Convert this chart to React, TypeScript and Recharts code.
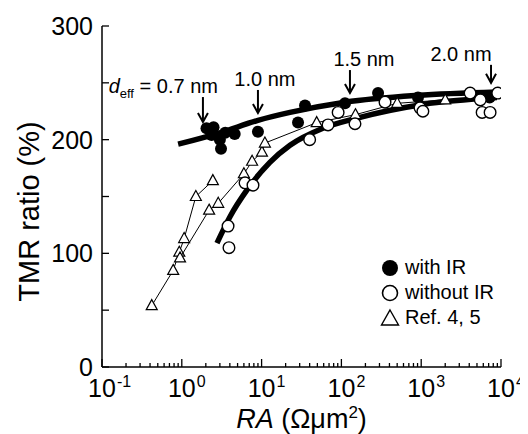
import React from 'react';
import { ComposedChart, Scatter, XAxis, YAxis, ReferenceDot, Legend } from 'recharts';

// ---------- data ----------
const withIR = [
  { ra: 2.04, tmr: 210 }, { ra: 2.5, tmr: 211 }, { ra: 2.36, tmr: 204 }, { ra: 3.0, tmr: 200 },
  { ra: 3.1, tmr: 192 }, { ra: 3.5, tmr: 206 }, { ra: 4.6, tmr: 205 }, { ra: 9.0, tmr: 207 },
  { ra: 28.6, tmr: 215 }, { ra: 35, tmr: 230 }, { ra: 111, tmr: 232 }, { ra: 288, tmr: 241 },
  { ra: 912, tmr: 237 }, { ra: 7200, tmr: 237 },
];
const withoutIR = [
  { ra: 3.8, tmr: 124 }, { ra: 3.9, tmr: 105 }, { ra: 6.2, tmr: 162 }, { ra: 7.8, tmr: 160 },
  { ra: 40, tmr: 200 }, { ra: 68, tmr: 213 }, { ra: 91, tmr: 224 }, { ra: 148, tmr: 214 },
  { ra: 352, tmr: 233 }, { ra: 966, tmr: 228 }, { ra: 1050, tmr: 225 }, { ra: 4100, tmr: 241 },
  { ra: 5500, tmr: 235 }, { ra: 5800, tmr: 224 }, { ra: 7300, tmr: 224 }, { ra: 9100, tmr: 241 },
];
const ref4 = [
  { ra: 0.42, tmr: 54 }, { ra: 0.78, tmr: 85 }, { ra: 0.93, tmr: 101 }, { ra: 1.07, tmr: 113 },
  { ra: 1.5, tmr: 150 }, { ra: 2.45, tmr: 164 },
];
const ref5 = [
  { ra: 0.95, tmr: 96 }, { ra: 2.2, tmr: 138 }, { ra: 2.86, tmr: 144 }, { ra: 6.0, tmr: 170 },
  { ra: 7.6, tmr: 181 }, { ra: 10.1, tmr: 189 }, { ra: 11, tmr: 197 }, { ra: 49, tmr: 215 },
  { ra: 150, tmr: 222 }, { ra: 500, tmr: 232 }, { ra: 2000, tmr: 235 },
];
const fitWithIR = [
  { ra: 0.9, tmr: 196 }, { ra: 3.0, tmr: 206 }, { ra: 9, tmr: 217 }, { ra: 22.7, tmr: 224 },
  { ra: 111, tmr: 233 }, { ra: 885, tmr: 239 }, { ra: 8900, tmr: 242 },
];
const fitWithoutIR = [
  { ra: 2.76, tmr: 109 }, { ra: 4.0, tmr: 132 }, { ra: 6.6, tmr: 156 }, { ra: 12.7, tmr: 180 },
  { ra: 22.7, tmr: 195 }, { ra: 58.7, tmr: 210 }, { ra: 157, tmr: 219 }, { ra: 1050, tmr: 231 },
  { ra: 8900, tmr: 237 },
];
const decadeExponents = [-1, 0, 1, 2, 3, 4];
const minorMultipliers = [2, 3, 4, 5, 6, 7, 8, 9];
const yTicks = [0, 50, 100, 150, 200, 250, 300];
const yLabelTicks = [0, 100, 200, 300];
const annotations = [
  { ra: 1.84, tmr: 215.5, label: '0.7 nm', deff: true },
  { ra: 9.0, tmr: 223.5, label: '1.0 nm', deff: false },
  { ra: 128, tmr: 241, label: '1.5 nm', deff: false },
  { ra: 7500, tmr: 250, label: '2.0 nm', deff: false },
];
const legendItems = [
  { key: 'filled', label: 'with IR' },
  { key: 'open', label: 'without IR' },
  { key: 'tri', label: 'Ref. 4, 5' },
];

// ---------- styles ----------
const FONT = '"Liberation Sans", Arial, Helvetica, sans-serif';
const annotationStyle = [
  { dx: 15, anchor: 'end', len: 25 },
  { dx: 7, anchor: 'middle', len: 23 },
  { dx: 14, anchor: 'middle', len: 23 },
  { dx: -30, anchor: 'middle', len: 18 },
];

const xTicks: number[] = [];
decadeExponents.forEach((e, i) => {
  xTicks.push(Math.pow(10, e));
  if (i < decadeExponents.length - 1) minorMultipliers.forEach((m) => xTicks.push(m * Math.pow(10, e)));
});

const isDecade = (v: number) => {
  const e = Math.round(Math.log10(v));
  return Math.abs(v - Math.pow(10, e)) < 1e-6 * v;
};

const XTickBottom = (props: any) => {
  const { x, y, payload } = props;
  const v = payload.value;
  const major = isDecade(v);
  const e = Math.round(Math.log10(v));
  return (
    <g>
      <line x1={x} x2={x} y1={y} y2={y - (major ? 8 : 4)} stroke="#000" strokeWidth={1.3} />
      {major && (
        <>
          <text x={x} y={y + 30} textAnchor="middle" fontSize={25} fontFamily={FONT} fill="#000">10</text>
          <text x={x + 15} y={y + 20} textAnchor="start" fontSize={16} fontFamily={FONT} fill="#000">{String(e)}</text>
        </>
      )}
    </g>
  );
};

const XTickTop = (props: any) => {
  const { x, y, payload } = props;
  const major = isDecade(payload.value);
  return <line x1={x} x2={x} y1={y} y2={y + (major ? 8 : 4)} stroke="#000" strokeWidth={1.3} />;
};

const YTickLeft = (props: any) => {
  const { x, y, payload } = props;
  const v = payload.value;
  return (
    <g>
      <line x1={x} x2={x + 7} y1={y} y2={y} stroke="#000" strokeWidth={1.3} />
      {yLabelTicks.includes(v) && (
        <text x={x - 9} y={y} dy="0.36em" textAnchor="end" fontSize={25} fontFamily={FONT} fill="#000">{String(v)}</text>
      )}
    </g>
  );
};

const YTickRight = (props: any) => {
  const { x, y } = props;
  return <line x1={x} x2={x - 7} y1={y} y2={y} stroke="#000" strokeWidth={1.3} />;
};

const circleFilled = (p: any) => <circle cx={p.cx} cy={p.cy} r={6} fill="#000" />;
const circleOpen = (p: any) => <circle cx={p.cx} cy={p.cy} r={5.8} fill="#fff" stroke="#000" strokeWidth={1.4} />;
const triangle = (p: any) => (
  <polygon
    points={`${p.cx},${p.cy - 6} ${p.cx + 5.5},${p.cy + 4} ${p.cx - 5.5},${p.cy + 4}`}
    fill="#fff"
    stroke="#000"
    strokeWidth={1.2}
  />
);
const noShape = () => <g />;

const makeArrow = (i: number) => (p: any) => {
  const a = annotations[i];
  const s = annotationStyle[i];
  const { cx, cy } = p;
  const top = cy - s.len;
  return (
    <g>
      <line x1={cx} x2={cx} y1={top} y2={cy} stroke="#000" strokeWidth={2} />
      <polyline points={`${cx - 5},${cy - 9} ${cx},${cy} ${cx + 5},${cy - 9}`} fill="none" stroke="#000" strokeWidth={2} />
      <text x={cx + s.dx} y={top - 4} textAnchor={s.anchor as any} fontSize={20} fontFamily={FONT} fill="#000">
        {a.deff ? (
          <>
            <tspan fontStyle="italic">d</tspan>
            <tspan fontSize={13} dy={5}>eff</tspan>
            <tspan dy={-5}>{' = ' + a.label}</tspan>
          </>
        ) : (
          a.label
        )}
      </text>
    </g>
  );
};

const LegendContent = () => (
  <div style={{ fontFamily: FONT, fontSize: 20, color: '#000' }}>
    {legendItems.map((it) => (
      <div key={it.key} style={{ display: 'flex', alignItems: 'center', height: 25 }}>
        <svg width={20} height={20} style={{ display: 'block' }}>
          {it.key === 'filled' && <circle cx={10} cy={10} r={8} fill="#000" />}
          {it.key === 'open' && <circle cx={10} cy={10} r={7.5} fill="#fff" stroke="#000" strokeWidth={1.6} />}
          {it.key === 'tri' && <polygon points="10,2 18.5,17 1.5,17" fill="#fff" stroke="#000" strokeWidth={1.4} />}
        </svg>
        <span style={{ marginLeft: 5, lineHeight: '25px' }}>{it.label}</span>
      </div>
    ))}
  </div>
);

const YTitle = (props: any) => {
  const vb = props.viewBox;
  const cx = vb.x + 7;
  const cy = vb.y + vb.height / 2 + 15;
  return (
    <text x={cx} y={cy} transform={`rotate(-90 ${cx} ${cy})`} textAnchor="middle" dominantBaseline="central" fontSize={29} fontFamily={FONT} fill="#000">
      TMR ratio (%)
    </text>
  );
};

const XTitle = (props: any) => {
  const vb = props.viewBox;
  const cx = vb.x + vb.width / 2;
  const y = vb.y + 61;
  return (
    <text x={cx} y={y} textAnchor="middle" fontSize={27} fontFamily={FONT} fill="#000">
      <tspan fontStyle="italic">RA</tspan>
      <tspan> (Ωμm</tspan>
      <tspan fontSize={17} dy={-10}>2</tspan>
      <tspan dy={10}>)</tspan>
    </text>
  );
};

export default function App() {
  return (
    <ComposedChart width={520} height={426} margin={{ top: 18, right: 27, left: 14, bottom: 7 }}>
      <XAxis
        dataKey="ra"
        type="number"
        scale="log"
        domain={[0.1, 10000]}
        allowDataOverflow
        ticks={xTicks}
        interval={0}
        tickLine={false}
        tickSize={0}
        tickMargin={0}
        height={60}
        axisLine={{ stroke: '#000', strokeWidth: 1.5 }}
        tick={<XTickBottom />}
        label={<XTitle />}
      />
      <XAxis
        xAxisId="top"
        orientation="top"
        dataKey="ra"
        type="number"
        scale="log"
        domain={[0.1, 10000]}
        allowDataOverflow
        ticks={xTicks}
        interval={0}
        tickLine={false}
        tickSize={0}
        tickMargin={0}
        height={0}
        axisLine={{ stroke: '#000', strokeWidth: 1.5 }}
        tick={<XTickTop />}
      />
      <YAxis
        dataKey="tmr"
        type="number"
        domain={[0, 300]}
        allowDataOverflow
        ticks={yTicks}
        interval={0}
        tickLine={false}
        tickSize={0}
        tickMargin={0}
        width={80}
        axisLine={{ stroke: '#000', strokeWidth: 1.5 }}
        tick={<YTickLeft />}
        label={<YTitle />}
      />
      <YAxis
        yAxisId="right"
        orientation="right"
        dataKey="tmr"
        type="number"
        domain={[0, 300]}
        allowDataOverflow
        ticks={yTicks}
        interval={0}
        tickLine={false}
        tickSize={0}
        tickMargin={0}
        width={0}
        axisLine={{ stroke: '#000', strokeWidth: 1.5 }}
        tick={<YTickRight />}
      />
      <Scatter data={fitWithIR} shape={noShape} line={{ stroke: '#000', strokeWidth: 5.5 }} lineJointType="monotoneX" isAnimationActive={false} legendType="none" />
      <Scatter data={fitWithoutIR} shape={noShape} line={{ stroke: '#000', strokeWidth: 5.5 }} lineJointType="monotoneX" isAnimationActive={false} legendType="none" />
      <Scatter data={ref4} shape={triangle} line={{ stroke: '#000', strokeWidth: 1 }} isAnimationActive={false} />
      <Scatter data={ref5} shape={triangle} line={{ stroke: '#000', strokeWidth: 1 }} isAnimationActive={false} />
      <Scatter data={withIR} shape={circleFilled} isAnimationActive={false} />
      <Scatter data={withoutIR} shape={circleOpen} isAnimationActive={false} />
      {annotations.map((a, i) => (
        <ReferenceDot key={i} x={a.ra} y={a.tmr} r={0} shape={makeArrow(i)} ifOverflow="visible" />
      ))}
      <Legend
        layout="vertical"
        align="center"
        verticalAlign="middle"
        content={<LegendContent />}
        wrapperStyle={{ left: 372, top: 247, width: 150 }}
      />
    </ComposedChart>
  );
}
